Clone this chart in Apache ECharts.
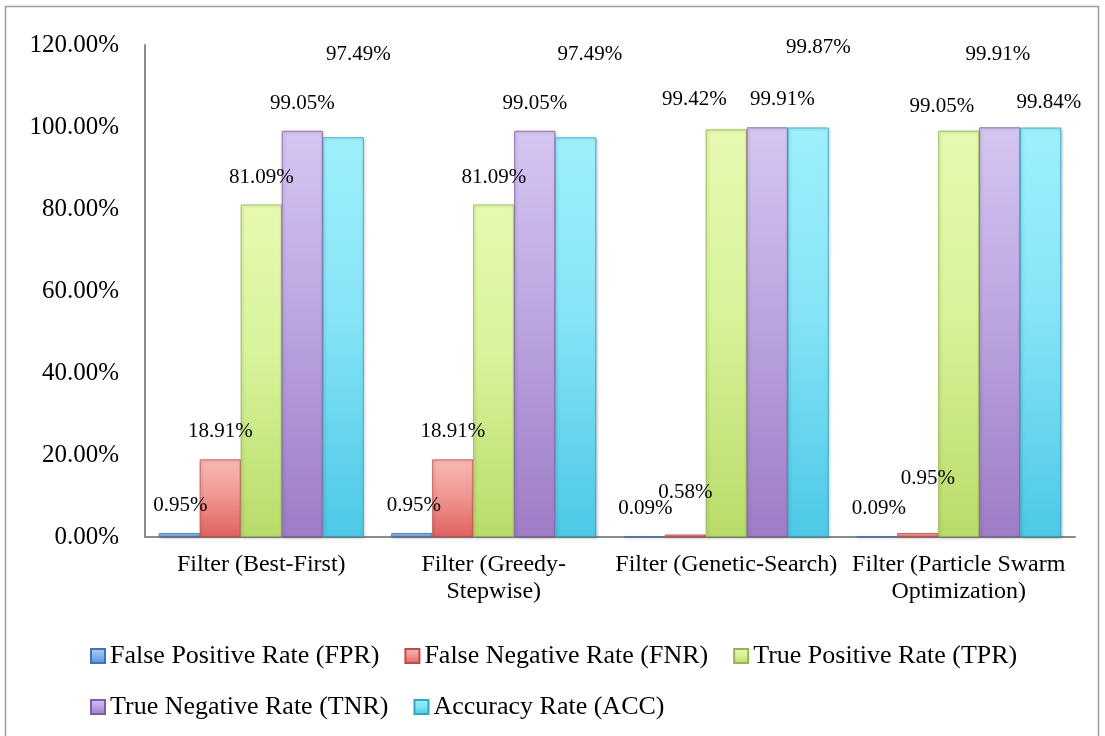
<!DOCTYPE html>
<html>
<head>
<meta charset="utf-8">
<script src="https://cdn.jsdelivr.net/npm/echarts@6/dist/echarts.min.js"></script>
<style>
  html, body { margin: 0; padding: 0; background: #fff; }
  #chart { width: 1105px; height: 736px; }
</style>
</head>
<body>
<div id="chart"></div>
<script>
// Feature-selection filters compared on five detection rates (percent)
const categories = ['Filter (Best-First)', 'Filter (Greedy-\nStepwise)', 'Filter (Genetic-Search)', 'Filter (Particle Swarm\nOptimization)'];
const seriesNames = ['False Positive Rate (FPR)', 'False Negative Rate (FNR)', 'True Positive Rate (TPR)', 'True Negative Rate (TNR)', 'Accuracy Rate (ACC)'];
const fpr = [0.95, 0.95, 0.09, 0.09];
const fnr = [18.91, 18.91, 0.58, 0.95];
const tpr = [81.09, 81.09, 99.42, 99.05];
const tnr = [99.05, 99.05, 99.91, 99.91];
const acc = [97.49, 97.49, 99.87, 99.84];
const yMin = 0, yMax = 120, yStep = 20;

// Hand-placed label nudges [dx, dy] per series and category
const labelNudge = [
  [[1, 0], [2, 0], [1, 0], [2, 0]],
  [[0, 0], [0, 0], [0, -15], [10, -27]],
  [[0, 0], [0, 0], [-32, -2], [-17, 3]],
  [[0, 0], [0, 0], [15, 0], [-2, -45]],
  [[15, -55], [14, -55], [10, -53], [8, 2]]
];

// Light-top / deep-bottom fills for each series
const palette = [
  ['#b4d2f4', '#8ab4ea', '#5a90d4', '#3f73b8'],
  ['#f8b8b6', '#f09894', '#e0625e', '#c24a46'],
  ['#e6fab0', '#d8f39a', '#b8dc6a', '#94b84c'],
  ['#d6c6f2', '#bca6e0', '#9e7cc6', '#7e5ca8'],
  ['#9ef0fc', '#86e4f6', '#4cc8e6', '#2ea6c6']
];

function fill(c) {
  return new echarts.graphic.LinearGradient(0, 0, 0, 1, [
    { offset: 0, color: c[0] },
    { offset: 0.45, color: c[1] },
    { offset: 1, color: c[2] }
  ]);
}

const values = [fpr, fnr, tpr, tnr, acc];
const serif = '"Liberation Serif", "Times New Roman", serif';

const series = values.map((arr, s) => ({
  name: seriesNames[s],
  type: 'bar',
  barWidth: 41,
  barGap: '0%',
  itemStyle: {
    color: fill(palette[s]),
    borderColor: palette[s][3],
    borderWidth: 0.8,
    shadowBlur: 3,
    shadowOffsetX: 1,
    shadowOffsetY: 1,
    shadowColor: 'rgba(0,0,0,0.25)'
  },
  label: {
    show: true,
    position: 'top',
    distance: 17,
    color: '#000',
    fontFamily: serif,
    fontSize: 21,
    formatter: p => p.value.toFixed(2) + '%'
  },
  data: arr.map((v, i) => ({ value: v, label: { offset: labelNudge[s][i] } }))
}));

const legendText = { color: '#000', fontFamily: serif, fontSize: 26 };

const chart = echarts.init(document.getElementById('chart'), null, { renderer: 'canvas' });
chart.setOption({
  animation: false,
  backgroundColor: '#fff',
  graphic: [{
    type: 'rect',
    shape: { x: 5.5, y: 6.5, width: 1093, height: 760 },
    style: { fill: 'none', stroke: '#9a9a9a', lineWidth: 1.5 },
    silent: true
  }],
  grid: { left: 145, right: 30, top: 45, bottom: 199, containLabel: false },
  legend: [
    {
      data: seriesNames.slice(0, 3),
      left: 85, top: 638,
      icon: 'rect',
      itemWidth: 14, itemHeight: 14, itemGap: 25,
      textStyle: legendText
    },
    {
      data: seriesNames.slice(3),
      left: 85, top: 689,
      icon: 'rect',
      itemWidth: 14, itemHeight: 14, itemGap: 25,
      textStyle: legendText
    }
  ],
  xAxis: {
    type: 'category',
    data: categories,
    axisLine: { lineStyle: { color: '#8c8c8c', width: 2 } },
    axisTick: { show: false },
    axisLabel: {
      interval: 0,
      margin: 14,
      color: '#000',
      fontFamily: serif,
      fontSize: 24,
      lineHeight: 27
    }
  },
  yAxis: {
    type: 'value',
    min: yMin, max: yMax, interval: yStep,
    axisLine: { show: true, lineStyle: { color: '#8c8c8c', width: 2 } },
    axisTick: { show: false },
    splitLine: { show: false },
    axisLabel: {
      margin: 26,
      color: '#000',
      fontFamily: serif,
      fontSize: 25,
      formatter: v => v.toFixed(2) + '%'
    }
  },
  series: series
});
</script>
</body>
</html>
